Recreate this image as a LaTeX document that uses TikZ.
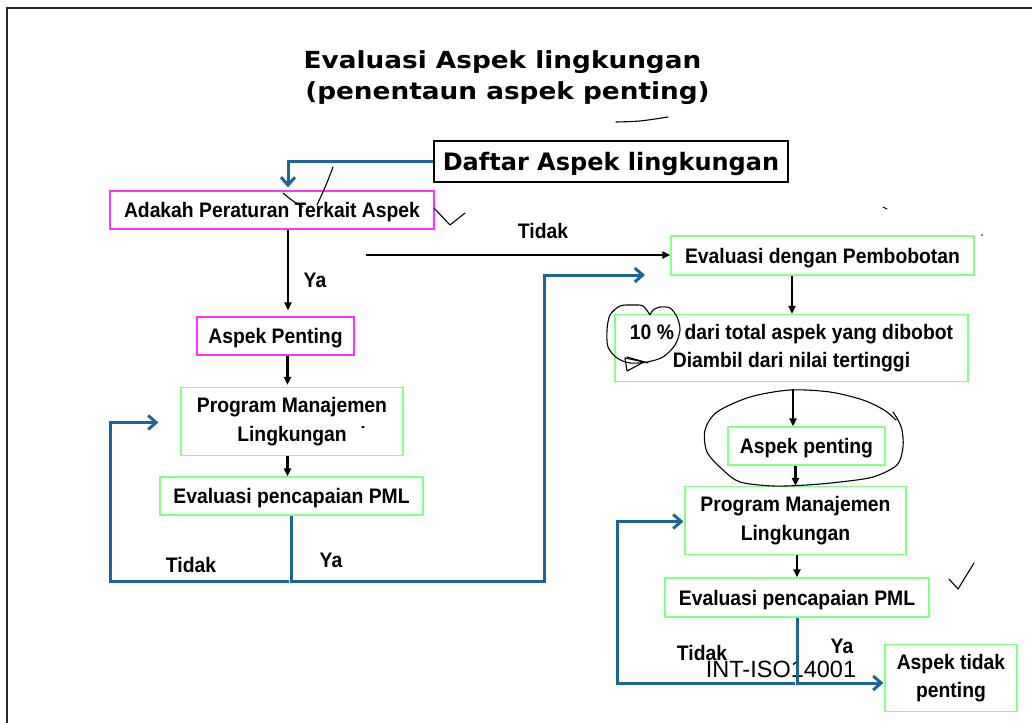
\documentclass[tikz,border=0pt]{standalone}
\usepackage{fontspec}
\setmainfont{Liberation Sans}
\newfontfamily\bodyfont[FakeStretch=0.92]{Liberation Sans}
\newfontfamily\titlefont[FakeStretch=1.12]{DejaVu Sans Bold}
\newfontfamily\daftarfont{DejaVu Sans Bold}
\usetikzlibrary{arrows.meta}
\definecolor{mag}{RGB}{255,51,255}
\definecolor{grn}{RGB}{136,255,136}
\definecolor{flowblue}{RGB}{31,100,150}
\tikzset{
  bodytxt/.style={font=\bodyfont\bfseries\fontsize{21}{28.5}\selectfont},
  box/.style={draw=grn, line width=1.1pt, inner sep=0pt, bodytxt, align=center},
  onebox/.style={box, text height=19.5pt, text depth=4.5pt},
  magbox/.style={onebox, draw=mag},
  lbl/.style={bodytxt, inner sep=0pt},
  blk/.style={-{Triangle[length=8pt,width=7pt]}, line width=2.2pt},
  blu/.style={draw=flowblue, line width=3pt, line join=miter,
     -{Straight Barb[length=8pt,width=14pt]}},
  ink/.style={line width=1.1pt, line cap=round, line join=round}
}
\begin{document}
\begin{tikzpicture}[x=1pt,y=-1pt]
\useasboundingbox (0,0) rectangle (1032,722);
\fill[white] (0,0) rectangle (1032,722);
% frame
\draw[line width=2.4pt, black!85] (7,730) -- (7,8) -- (1040,8);

% title
\node[font=\titlefont\fontsize{23.5}{31}\selectfont, anchor=base, inner sep=0pt] (title1) at (502.5,69) {Evaluasi Aspek lingkungan};
\node[font=\titlefont\fontsize{23.5}{31}\selectfont, anchor=base, inner sep=0pt] (title2) at (507.5,100) {(penentaun aspek penting)};

% boxes
\node[draw=black, line width=1.1pt, inner sep=0pt, minimum width=354pt, minimum height=41pt,
      font=\daftarfont\fontsize{24}{30}\selectfont, text height=23.3pt, text depth=5.8pt] (daftar) at (611,161.5) {Daftar Aspek lingkungan};
\node[magbox, minimum width=324pt, minimum height=38pt] (adakah) at (272,210) {Adakah Peraturan Terkait Aspek};
\node[magbox, minimum width=157pt, minimum height=38pt] (aspek1) at (275.5,336) {Aspek Penting};
\node[box, minimum width=222pt, minimum height=68pt] (prog1) at (292,421.5) {Program Manajemen\\Lingkungan};
\node[onebox, minimum width=263pt, minimum height=38pt] (eval1) at (291.5,496) {Evaluasi pencapaian PML};

\node[onebox, minimum width=303pt, minimum height=39pt] (evalbobot) at (822.5,255.5) {Evaluasi dengan Pembobotan};
\node[box, minimum width=353pt, minimum height=67pt] (tenpct) at (791.5,348) {10 \%\ \ dari total aspek yang dibobot\\Diambil dari nilai tertinggi};
\node[onebox, minimum width=157pt, minimum height=38pt] (aspek2) at (806.5,446) {Aspek penting};
\node[box, minimum width=221pt, minimum height=68pt] (prog2) at (795.5,520.5) {Program Manajemen\\Lingkungan};
\node[onebox, minimum width=264pt, minimum height=39pt] (eval2) at (797,597.5) {Evaluasi pencapaian PML};
\node[box, minimum width=132pt, minimum height=67pt] (tidakpenting) at (951,678) {Aspek tidak\\penting};

% labels
\node[lbl] (lya1) at (315,280) {Ya};
\node[lbl] (ltidak1) at (543,231) {Tidak};
\node[lbl] (ltidak2) at (191,565) {Tidak};
\node[lbl] (lya2) at (331,560) {Ya};
\node[lbl] (ltidak3) at (702,653) {Tidak};
\node[lbl] (lya3) at (842,646) {Ya};
\node[font=\fontsize{23.5}{28}\selectfont, inner sep=0pt] (intiso) at (781,669) {INT-ISO14001};

% coordinates for free ends
\coordinate (tidakstart) at (366,255);
\coordinate (yaturn) at (544,581);
\coordinate (yaend) at (645,275);
\coordinate (tdkturn) at (110,581);
\coordinate (tdkturn2) at (617,683);

% black connectors
\draw[blk, shorten >=6pt] ([xshift=16pt]adakah.south) -- ([xshift=16pt]adakah.south |- aspek1.north);
\draw[blk, shorten >=2pt] ([xshift=12pt]aspek1.south) -- ([xshift=12pt]aspek1.south |- prog1.north);
\draw[blk] ([xshift=-4.5pt]prog1.south) -- ([xshift=-4.5pt]prog1.south |- eval1.north);
\draw[blk] (tidakstart) -- (tidakstart -| evalbobot.west);
\draw[blk] ([xshift=0.5pt]tenpct.north |- evalbobot.south) -- ([xshift=0.5pt]tenpct.north);
\draw[blk, shorten <=7pt] ([xshift=-13.5pt]aspek2.north |- tenpct.south) -- ([xshift=-13.5pt]aspek2.north);
\draw[blk] (prog2.north |- aspek2.south) -- (prog2.north);
\draw[blk] (eval2.north |- prog2.south) -- (eval2.north);

% blue connectors
\draw[blu, shorten >=3pt] (daftar.west) -| ([xshift=16pt]adakah.north);
\draw[blu] (eval1.south) |- (yaturn) |- (yaend);
\draw[blu, shorten >=22pt] ([xshift=-3pt]eval1.south |- tdkturn) -- (tdkturn) |- ([yshift=-1pt]prog1.west);
\draw[blu, shorten >=1pt] (eval2.south) |- ([yshift=-5pt]tidakpenting.west);
\draw[blu, shorten >=1pt] ([xshift=-2pt]eval2.south |- tdkturn2) -- (tdkturn2) |- ([yshift=-1pt]prog2.west);

% handwritten ink marks
\draw[ink] plot[smooth] coordinates {(616,122) (640,121) (668,117)};
\draw[ink] plot[smooth] coordinates {(333,167) (326,185) (317,205)};
\draw[ink] plot[smooth] coordinates {(283,193) (293,201) (303,207)};
\draw[ink] (434,208) -- (450,225) -- (465,213);
\draw[ink] (883,207) -- (887,209);
\fill (982,235) circle (0.8pt);
\draw[ink] (362,427) -- (364,427);
\draw[ink] (949,579) -- (958,589) -- (974,563);
\draw[ink] plot[smooth] coordinates {(650,315) (643,306) (633,305) (620,306) (610,315) (607,330) (608,347) (617,358) (630,363) (647,362) (663,357) (675,345) (680,330) (677,317) (670,308) (660,307) (653,310) (650,315)};
\draw[ink] (625,358) -- (627,371) -- (644,362) -- cycle;
\draw[ink] (627,357) -- (648,363);
\draw[ink] plot[smooth] coordinates {(896,420) (884,410) (863,400) (830,392) (790,390) (750,397) (717,412) (705,430) (707,452) (723,470) (740,482) (773,486) (807,485) (840,482) (873,477) (897,465) (903,447) (902,430) (898,420) (893,412)};
\end{tikzpicture}
\end{document}
